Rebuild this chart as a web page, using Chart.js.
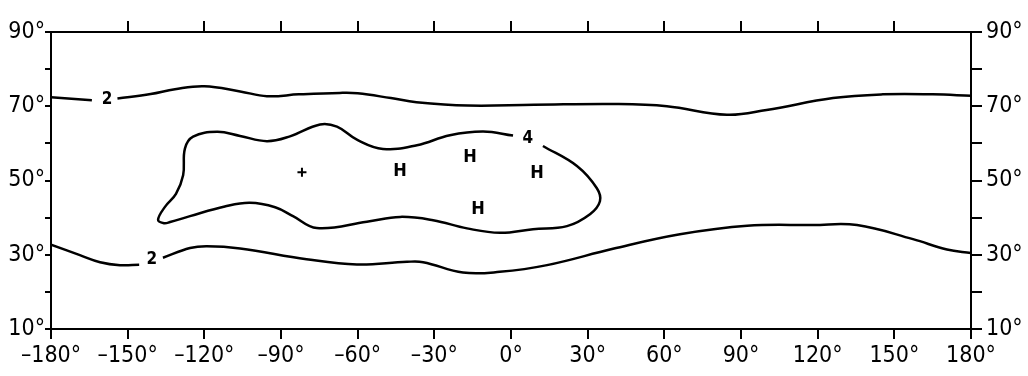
<!DOCTYPE html>
<html>
<head>
<meta charset="utf-8">
<script src="https://cdn.jsdelivr.net/npm/chart.js@4.4.0/dist/chart.umd.min.js"></script>
<style>
  html, body { margin: 0; padding: 0; background: #fff; }
</style>
</head>
<body>
<canvas id="map" width="1028" height="376"></canvas>
<script>
// Isolinjer lest av figuren (lengdegrad / breddegrad). null = åpning for etikett.
const upperLon = [-180, -164, -158, -154, -141, -131.5, -120, -106, -95.5, -83, -67, -60, -47, -37, -17, 9, 41.5, 61, 84.5, 100, 126, 145.5, 165, 180];
const upperLat = [72.4, 71.6, null, 72.1, 73.3, 74.6, 75.4, 74.0, 72.7, 73.2, 73.6, 73.5, 72.2, 71.1, 70.2, 70.4, 70.6, 70.0, 67.7, 69.0, 72.2, 73.2, 73.2, 72.8];

const lowerLon = [-180, -168.7, -160.8, -153, -145.5, -140.5, -136.2, -125.6, -119, -106, -80, -60.3, -40.7, -34.4, -18.8, -4.4, 14.1, 39.9, 66.1, 92.4, 118.2, 135.4, 157.3, 170.6, 180];
const lowerLat = [32.7, 29.9, 28.0, 27.2, 27.3, null, 29.2, 31.8, 32.3, 31.7, 28.8, 27.4, 28.1, 28.0, 25.2, 25.4, 27.2, 31.6, 35.5, 37.8, 38.0, 38.0, 34.2, 31.4, 30.5];

// lukket 4-kurve, fra høyre for etiketten og rundt med klokka
const innerLon = [12.5, 25.8, 33.6, 34.8, 30.9, 21.9, 8.6, -4.3, -17.2, -30.5, -43.4, -56.4, -76.0, -85.3, -92.3, -102.2, -112, -125.6, -133.4, -135.8, -138.1, -135.4, -131.1, -128.3, -127.6, -124.4, -115, -106, -95.5, -86.5, -74.7, -68.1, -60.3, -50.1, -36.8, -23.9, -10.9, 0.8];
const innerLat = [59.3, 53.9, 47.9, 44.4, 40.9, 37.7, 36.9, 35.9, 37.1, 39.3, 40.2, 38.9, 37.2, 40.4, 42.8, 44.0, 43.0, 40.4, 38.8, 38.5, 39.4, 42.9, 46.4, 51.4, 58.6, 61.8, 63.1, 62.0, 60.6, 61.9, 65.1, 64.5, 61.0, 58.5, 59.5, 62.2, 63.2, 62.1];

const highLon = [-43.4, -16.0, 10.2, -12.9];
const highLat = [52.6, 56.2, 52.05, 42.2];
const plusLon = [-81.8];
const plusLat = [52.2];

const labelText = ['2', '2', '4'];
const labelLon = [-158.1, -140.5, 6.6];
const labelLat = [71.8, 28.6, 61.2];

const xTicks = [-180, -150, -120, -90, -60, -30, 0, 30, 60, 90, 120, 150, 180];
const yTicks = [10, 20, 30, 40, 50, 60, 70, 80, 90];
const yLabelled = [10, 30, 50, 70, 90];

const FONT = "'DejaVu Sans Condensed', 'DejaVu Sans', sans-serif";

const toPoints = (lon, lat) => lon.map((x, i) => ({ x, y: lat[i] }));
const degLabel = (v) => (v < 0 ? '\u2013' + (-v) : String(v)) + '\u00B0';

const lineStyle = {
  borderColor: '#000',
  borderWidth: 2.5,
  pointRadius: 0,
  tension: 0.4,
  fill: false,
  spanGaps: false,
};

const textMarks = {
  id: 'textMarks',
  afterDatasetsDraw(chart) {
    const { ctx, scales: { x, y } } = chart;
    ctx.save();
    ctx.fillStyle = '#000';
    ctx.textAlign = 'center';
    ctx.textBaseline = 'middle';
    ctx.font = `bold 17px ${FONT}`;
    labelText.forEach((t, i) => {
      ctx.fillText(t, x.getPixelForValue(labelLon[i]), y.getPixelForValue(labelLat[i]));
    });
    ctx.font = `bold 18px ${FONT}`;
    highLon.forEach((lon, i) => {
      ctx.fillText('H', x.getPixelForValue(lon), y.getPixelForValue(highLat[i]));
    });
    ctx.restore();
  }
};

const edgeTick = (c) => c.tick && (c.tick.value === -180 || c.tick.value === 180);

new Chart(document.getElementById('map'), {
  type: 'line',
  data: {
    datasets: [
      { data: toPoints(upperLon, upperLat), ...lineStyle },
      { data: toPoints(lowerLon, lowerLat), ...lineStyle },
      { data: toPoints(innerLon, innerLat), ...lineStyle },
      {
        type: 'scatter',
        data: toPoints(plusLon, plusLat),
        pointStyle: 'cross',
        pointRadius: 4.5,
        borderColor: '#000',
        borderWidth: 2,
      },
    ]
  },
  options: {
    responsive: false,
    animation: false,
    layout: { padding: 0 },
    plugins: { legend: { display: false }, tooltip: { enabled: false } },
    scales: {
      x: {
        type: 'linear',
        position: 'bottom',
        min: -180,
        max: 180,
        afterBuildTicks: (s) => { s.ticks = xTicks.map((value) => ({ value })); },
        afterFit: (s) => { s.height = 47; },
        border: { color: '#000', width: 2 },
        grid: { drawOnChartArea: false, drawTicks: true, tickLength: 10, color: '#000', lineWidth: 2 },
        ticks: {
          autoSkip: false,
          maxRotation: 0,
          padding: 3,
          color: '#000',
          font: { family: FONT, size: 23 },
          callback: (v) => degLabel(v),
        }
      },
      xTop: {
        type: 'linear',
        position: 'top',
        min: -180,
        max: 180,
        afterBuildTicks: (s) => { s.ticks = xTicks.map((value) => ({ value })); },
        afterFit: (s) => { s.height = 32; },
        border: { color: '#000', width: 2 },
        grid: {
          drawOnChartArea: false,
          drawTicks: true,
          tickLength: 11,
          lineWidth: 2,
          color: (c) => (edgeTick(c) ? 'rgba(0,0,0,0)' : '#000'),
        },
        ticks: { display: false }
      },
      y: {
        position: 'left',
        min: 10,
        max: 90,
        afterBuildTicks: (s) => { s.ticks = yTicks.map((value) => ({ value })); },
        afterFit: (s) => { s.width = 51; },
        border: { color: '#000', width: 2 },
        grid: { drawOnChartArea: false, drawTicks: true, tickLength: 6, color: '#000', lineWidth: 2 },
        ticks: {
          autoSkip: false,
          padding: 0,
          color: '#000',
          font: { family: FONT, size: 23 },
          callback: (v) => (yLabelled.includes(v) ? degLabel(v) : ''),
        }
      },
      yRight: {
        position: 'right',
        min: 10,
        max: 90,
        afterBuildTicks: (s) => { s.ticks = yTicks.map((value) => ({ value })); },
        afterFit: (s) => { s.width = 57; },
        border: { color: '#000', width: 2 },
        grid: { drawOnChartArea: false, drawTicks: true, tickLength: 11, color: '#000', lineWidth: 2 },
        ticks: {
          autoSkip: false,
          padding: 4,
          color: '#000',
          font: { family: FONT, size: 23 },
          callback: (v) => (yLabelled.includes(v) ? degLabel(v) : ''),
        }
      }
    }
  },
  plugins: [textMarks],
});
</script>
</body>
</html>
